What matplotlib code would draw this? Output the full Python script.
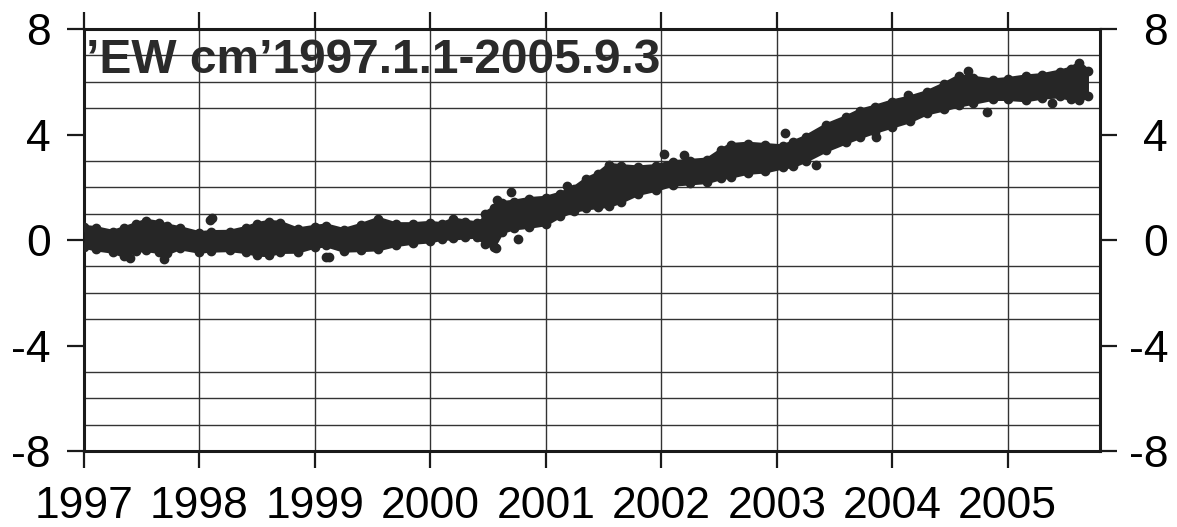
import numpy as np
import matplotlib.pyplot as plt
import matplotlib.transforms as mtransforms

plt.rcParams['font.family'] = ['Liberation Sans', 'DejaVu Sans']
plt.rcParams['axes.unicode_minus'] = False

# envelope of the daily EW solutions (cm), by decimal year
t = [1997.00, 1997.10, 1997.25, 1997.35, 1997.45, 1997.54, 1997.65, 1997.72, 1997.83,
     1998.00, 1998.10, 1998.26, 1998.40, 1998.50, 1998.60, 1998.70, 1998.85,
     1999.00, 1999.10, 1999.25, 1999.40, 1999.55, 1999.70, 1999.85,
     2000.00, 2000.10, 2000.20, 2000.30, 2000.40, 2000.45, 2000.47, 2000.55, 2000.62,
     2000.72, 2000.85, 2001.00, 2001.12, 2001.24, 2001.35, 2001.45, 2001.55, 2001.65,
     2001.80, 2001.95, 2002.10, 2002.25, 2002.40, 2002.52, 2002.60, 2002.75, 2002.90,
     2003.05, 2003.14, 2003.25, 2003.43, 2003.60, 2003.72, 2003.85,
     2004.00, 2004.15, 2004.30, 2004.45, 2004.58, 2004.70, 2004.87,
     2005.00, 2005.16, 2005.30, 2005.45, 2005.55, 2005.62, 2005.70]
ew_lower = [-0.25, -0.35, -0.44, -0.60, -0.40, -0.38, -0.45, -0.50, -0.31,
            -0.44, -0.40, -0.38, -0.45, -0.55, -0.57, -0.45, -0.44,
            -0.25, -0.20, -0.40, -0.38, -0.35, -0.19, -0.10,
            -0.05, 0.05, 0.06, 0.10, 0.13, 0.10, -0.15, -0.25, 0.30,
            0.44, 0.50, 0.60, 0.90, 1.10, 1.20, 1.25, 1.30, 1.45,
            1.75, 1.90, 2.10, 2.15, 2.20, 2.35, 2.40, 2.55, 2.60,
            2.75, 2.80, 3.00, 3.40, 3.70, 3.90, 4.10,
            4.30, 4.50, 4.80, 4.95, 5.10, 5.20, 5.35,
            5.35, 5.30, 5.40, 5.45, 5.35, 5.30, 5.45]
ew_upper = [0.50, 0.45, 0.31, 0.45, 0.60, 0.73, 0.65, 0.55, 0.45,
            0.26, 0.30, 0.31, 0.45, 0.60, 0.69, 0.65, 0.40,
            0.50, 0.55, 0.38, 0.57, 0.80, 0.60, 0.60,
            0.65, 0.60, 0.78, 0.70, 0.63, 0.65, 1.00, 1.20, 1.40,
            1.45, 1.55, 1.60, 1.75, 1.95, 2.30, 2.50, 2.85, 2.80,
            2.75, 2.80, 2.95, 3.00, 3.05, 3.40, 3.60, 3.65, 3.60,
            3.55, 3.70, 3.90, 4.35, 4.65, 4.90, 5.05,
            5.25, 5.40, 5.60, 5.90, 6.20, 6.15, 6.05,
            6.10, 6.20, 6.25, 6.38, 6.50, 6.70, 6.40]

# isolated daily solutions off the main band
out_t = [1997.40, 1997.69, 1998.09, 1998.11, 1999.10, 1999.12, 2000.57, 2000.58, 2000.70,
         2000.76, 2001.18, 2002.02, 2002.20, 2003.07, 2003.34, 2003.86, 2004.14,
         2004.66, 2004.82, 2005.38]
out_v = [-0.69, -0.70, 0.76, 0.82, -0.63, -0.63, -0.32, 1.52, 1.83,
         0.03, 2.04, 3.28, 3.22, 4.05, 2.84, 3.91, 5.49,
         6.41, 4.86, 5.18]

years = list(range(1997, 2006))
yticks = [-8, -4, 0, 4, 8]

fig = plt.figure(figsize=(11.77, 5.27), dpi=100)
ax = fig.add_axes([0.0714, 0.144, 0.8632, 0.801])

dot = '#262626'
ax.fill_between(t, ew_lower, ew_upper, color=dot, lw=0, zorder=3)
ax.plot(t, ew_upper, 'o-', color=dot, ms=6, lw=3, zorder=3)
ax.plot(t, ew_lower, 'o-', color=dot, ms=6, lw=3, zorder=3)
ax.plot(out_t, out_v, 'o', color=dot, ms=6, zorder=3)

ax.set_xlim(1997, 2005.8)
ax.set_ylim(-8, 8)
ax.set_xticks(years)
ax.set_xticklabels([str(y) for y in years])
ax.set_yticks(yticks)
ax.set_yticklabels([str(v) for v in yticks])
ax.set_yticks(np.arange(-8, 9, 1), minor=True)

ax.grid(True, which='major', axis='x', color='#333333', lw=1.0)
ax.grid(True, which='minor', axis='y', color='#333333', lw=1.0)
ax.set_axisbelow(True)

for s in ax.spines.values():
    s.set_linewidth(2.2)
    s.set_color('#1a1a1a')

ax.tick_params(axis='both', which='major', direction='out', length=12, width=1.6,
               color='#1a1a1a', labelsize=32, pad=12)
ax.tick_params(axis='x', top=True, labeltop=False, pad=13)
ax.tick_params(axis='y', right=True, labelright=False)
ax.tick_params(axis='y', which='minor', length=0)

# right-hand labels, right aligned a fixed distance outside the spine
right_tr = mtransforms.blended_transform_factory(ax.transAxes, ax.transData) + \
    mtransforms.ScaledTranslation(68 / 100, 0, fig.dpi_scale_trans)
for v in yticks:
    ax.text(1.0, v, str(v), transform=right_tr, fontsize=32, ha='right', va='center_baseline',
            clip_on=False)

ax.text(1997.02, 6.33, '\u2019EW cm\u20191997.1.1-2005.9.3', fontsize=34.5, fontweight='bold',
        color='#2a2a2a', va='baseline', ha='left', zorder=4)

fig.savefig('out.png', dpi=100)
